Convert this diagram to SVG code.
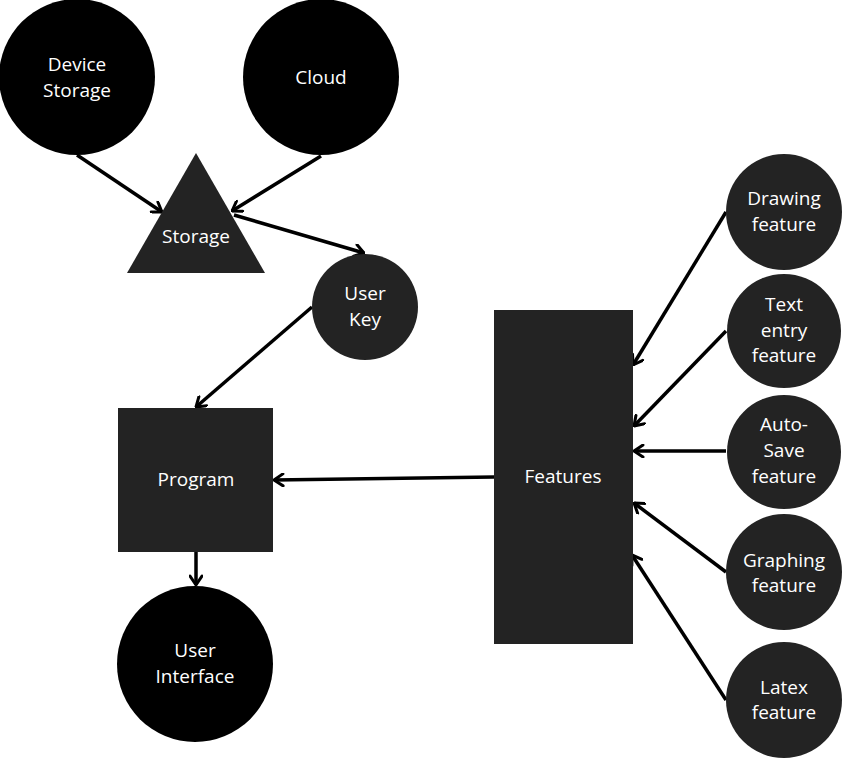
<svg xmlns="http://www.w3.org/2000/svg" width="864" height="762" viewBox="0 0 864 762">
<style>
.t{font-family:"Open Sans","Noto Sans","Liberation Sans",sans-serif;font-size:19px;fill:#fff;text-anchor:middle}
.blk{fill:#000}
.dk{fill:#232323}
.c line{stroke:#000;stroke-width:3.5;marker-end:url(#a)}
</style>
<defs>
<marker id="a" viewBox="0 0 12 14" refX="11" refY="7" markerWidth="12" markerHeight="14" markerUnits="userSpaceOnUse" orient="auto">
<path d="M2,1 L11,7 L2,13" fill="none" stroke="#000" stroke-width="3" stroke-linecap="round" stroke-linejoin="round"/>
</marker>
</defs>
<rect width="864" height="762" fill="#fff"/>
<g class="c" id="connectors">
<line x1="77" y1="155" x2="162" y2="212"/>
<line x1="321" y1="156" x2="232" y2="211"/>
<line x1="234" y1="215" x2="364" y2="253"/>
<line x1="312" y1="307" x2="196" y2="407"/>
<line x1="494" y1="477" x2="274" y2="480"/>
<line x1="196" y1="552" x2="196" y2="585"/>
<line x1="726" y1="212" x2="633" y2="365"/>
<line x1="726" y1="331" x2="634" y2="426"/>
<line x1="726" y1="451" x2="634" y2="451"/>
<line x1="726" y1="572" x2="634" y2="503"/>
<line x1="726" y1="700" x2="632" y2="555"/>
</g>
<g id="device-storage"><circle class="blk" cx="77" cy="77" r="78"/><text class="t" x="77" y="71">Device</text><text class="t" x="77" y="97">Storage</text></g>
<g id="cloud"><circle class="blk" cx="321" cy="77" r="78"/><text class="t" x="321" y="84">Cloud</text></g>
<g id="storage"><polygon class="dk" points="196,153 265,273 127,273"/><text class="t" x="196" y="243">Storage</text></g>
<g id="user-key"><circle class="dk" cx="365" cy="307" r="53"/><text class="t" x="365" y="300">User</text><text class="t" x="365" y="326">Key</text></g>
<g id="program"><rect class="dk" x="118" y="408" width="155" height="144"/><text class="t" x="196" y="486">Program</text></g>
<g id="user-interface"><circle class="blk" cx="195" cy="664" r="78"/><text class="t" x="195" y="657">User</text><text class="t" x="195" y="683">Interface</text></g>
<g id="features"><rect class="dk" x="494" y="310" width="139" height="334"/><text class="t" x="563" y="483">Features</text></g>
<g id="drawing"><circle class="dk" cx="784" cy="212" r="58"/><text class="t" x="784" y="205">Drawing</text><text class="t" x="784" y="231">feature</text></g>
<g id="text-entry"><circle class="dk" cx="784" cy="331" r="57"/><text class="t" x="784" y="311">Text</text><text class="t" x="784" y="337">entry</text><text class="t" x="784" y="362">feature</text></g>
<g id="auto-save"><circle class="dk" cx="784" cy="452" r="57"/><text class="t" x="784" y="431">Auto-</text><text class="t" x="784" y="457">Save</text><text class="t" x="784" y="483">feature</text></g>
<g id="graphing"><circle class="dk" cx="784" cy="572" r="58"/><text class="t" x="784" y="567">Graphing</text><text class="t" x="784" y="592">feature</text></g>
<g id="latex"><circle class="dk" cx="784" cy="700" r="58"/><text class="t" x="784" y="694">Latex</text><text class="t" x="784" y="719">feature</text></g>
</svg>
